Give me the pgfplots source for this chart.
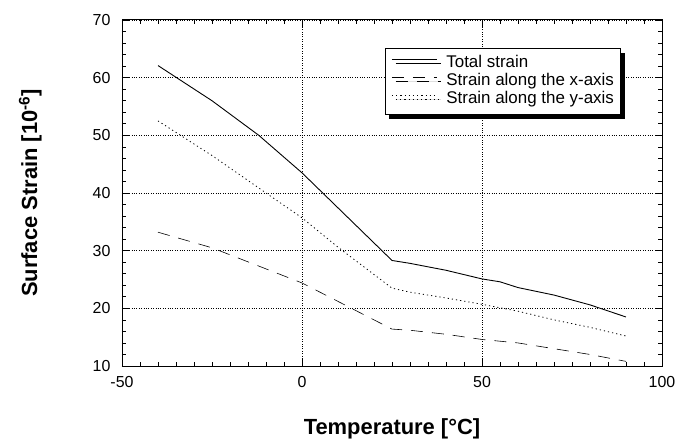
\documentclass[border=0pt]{standalone}
\usepackage{fontspec}
\setmainfont{Liberation Sans}
\usepackage{pgfplots}
\pgfplotsset{compat=1.18}
\usetikzlibrary{shadows}

\begin{document}
\begin{tikzpicture}
\begin{axis}[
    scale only axis, width=540bp, height=346bp,
    xmin=-50, xmax=100, ymin=10, ymax=70,
    xtick={-50,0,50,100}, ytick={10,20,...,70},
    minor x tick num=9, minor y tick num=4,
    tick align=inside,
    major tick length=7bp, minor tick length=4bp,
    tick style={black, line width=0.7pt},
    axis line style={line width=1pt},
    grid=major,
    grid style={black, line width=0.8pt, dash pattern=on 0.9bp off 1.5bp},
    /pgf/number format/assume math mode=true,
    tick label style={font=\fontsize{16}{19}\selectfont},
    xticklabel style={yshift=-7bp},
    yticklabel style={xshift=-8bp},
    xlabel={\textbf{Temperature [°C]}},
    ylabel={\textbf{Surface Strain [10\textsuperscript{-6}]}},
    label style={font=\fontsize{22}{26}\selectfont},
    xlabel style={at={(axis description cs:0.5,-0.182)}, anchor=center},
    ylabel style={at={(axis description cs:-0.170,0.5)}, anchor=center, rotate=0},
    legend style={at={(rel axis cs:0.487,0.919)}, anchor=north west,
        draw=black, line width=1pt, fill=white,
        drop shadow={shadow xshift=4bp, shadow yshift=-4bp, opacity=1, fill=black},
        font=\fontsize{17}{19}\selectfont,
        nodes={inner xsep=1bp, inner ysep=1.5bp, text height=11.5bp, text depth=3.5bp},
        column sep=8bp, inner xsep=6bp, inner ysep=6bp},
    legend cell align=left,
    legend image code/.code={\draw[#1] (0bp,4bp) -- (45bp,4bp);},
]
\coordinate (sw) at (rel axis cs:0,0);
\coordinate (ne) at (rel axis cs:1,1);

\addplot[black, line width=0.9pt] coordinates {
(-40,62.1) (-25,56) (-12,50) (0,43.5) (25,28.3) (30,27.8) (40,26.6)
(50,25.1) (55,24.6) (60,23.6) (70,22.3) (80,20.6) (90,18.5)
};
\addlegendentry{Total strain}

\addplot[black, line width=0.6pt, dash pattern=on 12bp off 9bp] coordinates {
(-40,33.2) (-25,30.5) (0,24.4) (25,16.4) (30,16.2) (40,15.5) (50,14.6)
(55,14.3) (60,14) (70,13) (80,12) (90,10.8)
};
\addlegendentry{Strain along the x-axis}

\addplot[black, line width=0.8pt, dash pattern=on 1.2bp off 3bp] coordinates {
(-40,52.5) (-25,46.5) (-10,40) (0,35.7) (10,30.6) (25,23.5) (30,22.8)
(40,21.8) (50,20.7) (60,19.5) (70,18) (80,16.7) (90,15.2)
};
\addlegendentry{Strain along the y-axis}
\end{axis}
\pgfresetboundingbox
\path[use as bounding box] ([xshift=-122bp,yshift=-79bp]sw) rectangle ([xshift=17bp,yshift=20bp]ne);
\end{tikzpicture}
\end{document}
